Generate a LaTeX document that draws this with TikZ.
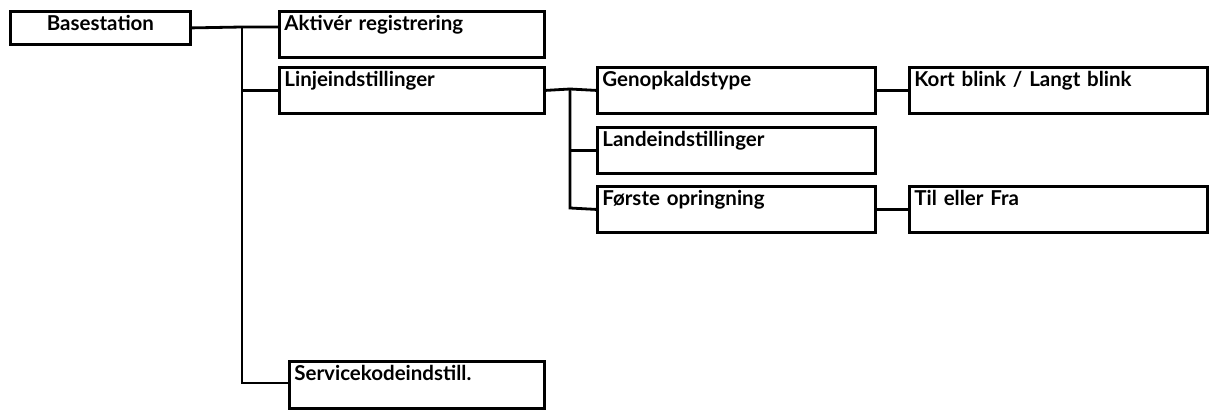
\documentclass[tikz,border=0pt]{standalone}
\usepackage{fontspec}
\setmainfont{Lato}
\begin{document}
\begin{tikzpicture}[x=1pt,y=-1pt,
    menu/.style 2 args={draw=black, line width=2.8pt, anchor=north west, inner xsep=5pt, inner ysep=3pt,
      font=\bfseries\fontsize{20.5}{22}\selectfont, align=left, text width=#1,
      text height=16pt, text depth=#2},
    link/.style={line width=2.8pt}]
  \useasboundingbox (0,0) rectangle (1214,412);
  % first level
  \node[menu={170pt}{11pt}, align=center] (base) at (9,10) {Basestation};
  \node[menu={255pt}{24pt}] (aktiv) at (278,10) {Aktivér registrering};
  \node[menu={255pt}{24pt}] (linje) at (278,66) {Linjeindstillinger};
  \node[menu={245pt}{25pt}] (serv) at (288,360) {Servicekodeindstill.};
  % second level
  \node[menu={268pt}{24pt}] (genop) at (596,66) {Genopkaldstype};
  \node[menu={268pt}{24pt}] (lande) at (596,126) {Landeindstillinger};
  \node[menu={268pt}{24pt}] (forste) at (596,185) {Første opringning};
  \node[menu={288pt}{24pt}] (kort) at (908,66) {Kort blink / Langt blink};
  \node[menu={288pt}{24pt}] (til) at (908,185) {Til eller Fra};
  % connectors
  \coordinate (b1) at (242,27);
  \coordinate (b2) at (242,383);
  \coordinate (l1) at (570,89);
  \coordinate (l2) at (570,208);
  \draw[link] (base.east) -- (b1) -- (aktiv.west |- b1);
  \draw[link] (b1) -- (b2) -- (serv.west |- b2);
  \draw[link] (b1 |- linje.west) -- (linje.west);
  \draw[link] (linje.east) -- (l1) -- (genop.west);
  \draw[link] (l1) -- (l2) -- (forste.west);
  \draw[link] (l1 |- lande.west) -- (lande.west);
  \draw[link] (genop.east) -- (kort.west);
  \draw[link] (forste.east) -- (til.west);
\end{tikzpicture}
\end{document}
